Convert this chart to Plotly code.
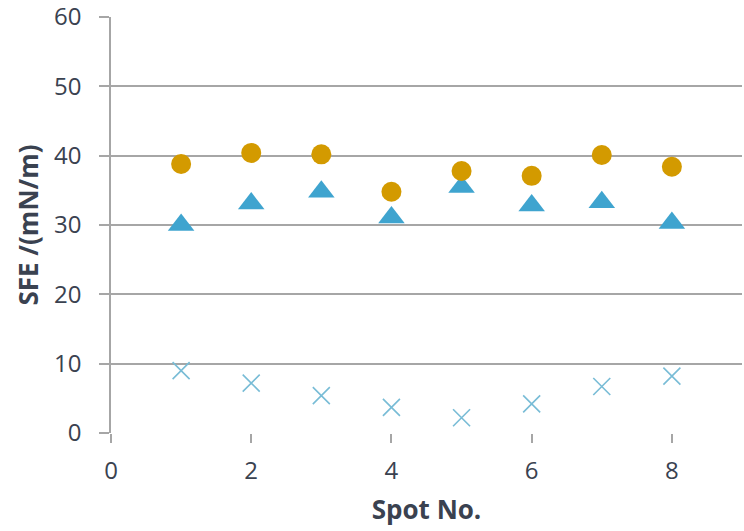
import plotly.graph_objects as go

# Spot numbers and surface free energy components (mN/m)
spots = [1, 2, 3, 4, 5, 6, 7, 8]
sfe_total = [38.8, 40.4, 40.2, 34.8, 37.8, 37.1, 40.1, 38.4]
sfe_dispersive = [30.0, 33.1, 34.8, 31.1, 35.5, 32.8, 33.3, 30.3]
sfe_polar = [9.0, 7.2, 5.4, 3.7, 2.2, 4.2, 6.7, 8.2]

x_ticks = [0, 2, 4, 6, 8]
y_ticks = [0, 10, 20, 30, 40, 50, 60]

FONT = "Open Sans"
TEXT = "#3a4250"
GRID = "#a6a6a6"

fig = go.Figure()
fig.add_trace(go.Scatter(
    x=spots, y=sfe_polar, mode="markers", name="Polar",
    marker=dict(symbol="x-thin", size=17, line=dict(width=1.6, color="#78bcd6")),
))
fig.add_trace(go.Scatter(
    x=spots, y=sfe_dispersive, mode="markers", name="Dispersive",
    marker=dict(symbol="triangle-up", size=23, color="#3fa4cf"),
))
fig.add_trace(go.Scatter(
    x=spots, y=sfe_total, mode="markers", name="Total",
    marker=dict(symbol="circle", size=20, color="#d39a00"),
))

fig.update_layout(
    width=744, height=531,
    margin=dict(l=111, r=2, t=17, b=98, autoexpand=False),
    paper_bgcolor="white", plot_bgcolor="white",
    showlegend=False,
    font=dict(family=FONT, size=24, color=TEXT),
)
fig.update_xaxes(
    range=[0, 9], tickvals=x_ticks, showgrid=False, zeroline=False,
    showline=False, ticks="outside", ticklen=9, tickcolor=GRID, tickwidth=1.5,
    ticklabelstandoff=7, automargin=False,
    tickfont=dict(family=FONT, size=24, color=TEXT),
    title=dict(text="<b>Spot No.</b>", font=dict(family=FONT, size=26, color=TEXT), standoff=16),
)
fig.update_yaxes(
    range=[0, 60.01], tickvals=y_ticks, showgrid=True, gridcolor=GRID, gridwidth=1.5,
    zeroline=False, showline=True, linecolor=GRID, linewidth=1.5,
    ticks="outside", ticklen=10, tickcolor=GRID, tickwidth=1.5,
    ticklabelstandoff=13, ticklabeloverflow="allow", automargin=False,
    tickfont=dict(family=FONT, size=24, color=TEXT),
    title=dict(text="<b>SFE /(mN/m)</b>", font=dict(family=FONT, size=26, color=TEXT), standoff=8),
)

fig.write_html("out.html")
